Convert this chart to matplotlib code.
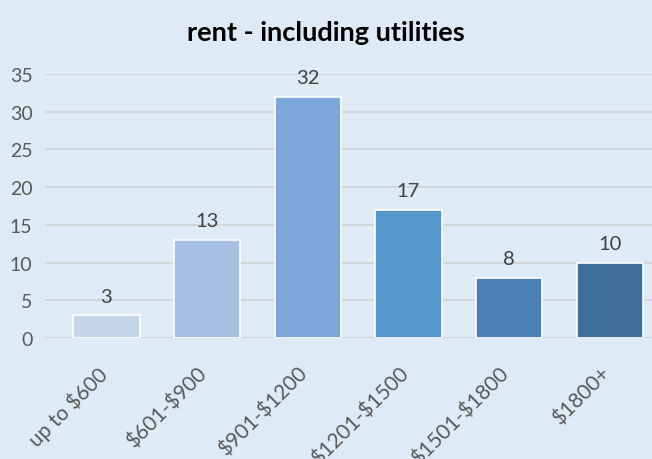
import matplotlib.pyplot as plt
from matplotlib.transforms import ScaledTranslation

categories = ['up to \\$600', '\\$601-\\$900', '\\$901-\\$1200', '\\$1201-\\$1500', '\\$1501-\\$1800', '\\$1800+']
counts = [3, 13, 32, 17, 8, 10]
colors = ['#c5d5ea', '#a5c0e3', '#7ba8d9', '#5596cb', '#4a80b5', '#3f6f9c']

plt.rcParams['font.family'] = ['Lato', 'DejaVu Sans']
bg = '#deeaf6'

fig = plt.figure(figsize=(6.52, 4.6), dpi=100, facecolor=bg)
ax = fig.add_axes([45/652, 1-339/460, 607/652, (339-75)/460], facecolor=bg)

x = list(range(len(categories)))
ax.bar(x, counts, width=0.66, color=colors, edgecolor='white', linewidth=1.2, zorder=3)
for xi, v in zip(x, counts):
    ax.text(xi, v + 1.4, str(v), ha='center', va='bottom', fontsize=14.5, color='#404040')

ax.set_ylim(0, 35)
ax.set_xlim(-0.61, 5.42)
ax.set_yticks(range(0, 36, 5))
ax.yaxis.grid(True, color='#d0d4d8', linewidth=1.3, zorder=0)
for s in ax.spines.values():
    s.set_visible(False)
ax.axhline(0, color='#d0d4d8', linewidth=1.8, zorder=2)
ax.tick_params(axis='both', length=0, labelsize=14, labelcolor='#595959')
ax.tick_params(axis='y', pad=9)
ax.set_xticks(x)
ax.set_xticklabels(categories, rotation=45, ha='right', rotation_mode='anchor', fontsize=15)
ax.tick_params(axis='x', pad=18)
shift = ScaledTranslation(-10/100, 0, fig.dpi_scale_trans)
for lbl in ax.get_xticklabels():
    lbl.set_transform(lbl.get_transform() + shift)

fig.suptitle('rent - including utilities', y=0.955, fontsize=19.5, fontweight='bold', color='black')

fig.savefig('out.png', dpi=100, facecolor=bg)
